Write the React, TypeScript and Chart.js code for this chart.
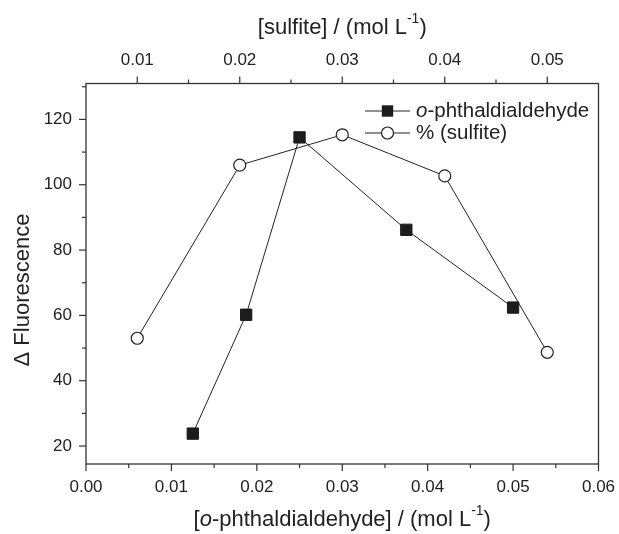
import React, { useEffect, useRef } from 'react';
import { Chart, registerables } from 'chart.js';

Chart.register(...registerables);

// ---- data ----
const opaConc = [0.0125, 0.01875, 0.025, 0.0375, 0.05];
const opaFluor = [23.8, 60.2, 114.5, 86.2, 62.4];
const sulfiteConc = [0.01, 0.02, 0.03, 0.04, 0.05];
const sulfiteFluor = [53.0, 106.0, 115.3, 102.7, 48.7];

const bottomTicks = [0, 0.01, 0.02, 0.03, 0.04, 0.05, 0.06];
const bottomMinor = [0.005, 0.015, 0.025, 0.035, 0.045, 0.055];
const topTicks = [0.01, 0.02, 0.03, 0.04, 0.05];
const topMinor = [0.015, 0.025, 0.035, 0.045];
const yTicks = [20, 40, 60, 80, 100, 120];
const yMinor = [30, 50, 70, 90, 110, 130];

const FONT = '"Liberation Sans", Arial, sans-serif';
const INK = '#222';
const TITLE_SIZE = 22;
const LEGEND_SIZE = 20.5;

type Seg = { t: string; it?: boolean; sup?: boolean };

function segFont(s: Seg, size: number) {
  const sz = s.sup ? Math.round(size * 0.62) : size;
  return `${s.it ? 'italic ' : ''}${sz}px ${FONT}`;
}

function richWidth(ctx: CanvasRenderingContext2D, segs: Seg[], size: number) {
  let w = 0;
  for (const s of segs) {
    ctx.font = segFont(s, size);
    w += ctx.measureText(s.t).width;
  }
  return w;
}

function drawRich(ctx: CanvasRenderingContext2D, segs: Seg[], x: number, y: number, size: number, align: 'center' | 'left') {
  const w = richWidth(ctx, segs, size);
  let cx = align === 'center' ? x - w / 2 : x;
  ctx.textAlign = 'left';
  ctx.textBaseline = 'middle';
  ctx.fillStyle = INK;
  for (const s of segs) {
    ctx.font = segFont(s, size);
    ctx.fillText(s.t, cx, s.sup ? y - size * 0.38 : y);
    cx += ctx.measureText(s.t).width;
  }
}

const framePlugin = {
  id: 'frameTicks',
  beforeDatasetsDraw(chart: any) {
    const { ctx, chartArea: a, scales } = chart;
    ctx.save();
    ctx.strokeStyle = '#333';
    ctx.lineWidth = 1.3;
    ctx.strokeRect(a.left, a.top, a.right - a.left, a.bottom - a.top);
    const seg = (x1: number, y1: number, x2: number, y2: number) => {
      ctx.beginPath();
      ctx.moveTo(x1, y1);
      ctx.lineTo(x2, y2);
      ctx.stroke();
    };
    ctx.lineWidth = 1.2;
    bottomTicks.forEach((v) => { const x = scales.x.getPixelForValue(v); seg(x, a.bottom, x, a.bottom + 7); });
    bottomMinor.forEach((v) => { const x = scales.x.getPixelForValue(v); seg(x, a.bottom, x, a.bottom + 4); });
    topTicks.forEach((v) => { const x = scales.x2.getPixelForValue(v); seg(x, a.top, x, a.top - 7); });
    topMinor.forEach((v) => { const x = scales.x2.getPixelForValue(v); seg(x, a.top, x, a.top - 4); });
    yTicks.forEach((v) => { const y = scales.y.getPixelForValue(v); seg(a.left, y, a.left - 7, y); });
    yMinor.forEach((v) => {
      if (v <= scales.y.max && v >= scales.y.min) {
        const y = scales.y.getPixelForValue(v); seg(a.left, y, a.left - 4, y);
      }
    });
    ctx.restore();
  },
  afterDraw(chart: any) {
    const { ctx, chartArea: a } = chart;
    ctx.save();
    const cx = (a.left + a.right) / 2;
    // axis titles
    drawRich(ctx, [{ t: '[sulfite] / (mol L' }, { t: '-1', sup: true }, { t: ')' }], cx, 28, TITLE_SIZE, 'center');
    drawRich(ctx, [{ t: '[' }, { t: 'o', it: true }, { t: '-phthaldialdehyde] / (mol L' }, { t: '-1', sup: true }, { t: ')' }], cx, 520, TITLE_SIZE, 'center');
    ctx.save();
    ctx.translate(23, 290);
    ctx.rotate(-Math.PI / 2);
    drawRich(ctx, [{ t: '\u0394 Fluorescence' }], 0, 0, TITLE_SIZE, 'center');
    ctx.restore();

    // legend
    const lx = a.left + 279;
    const rows = [a.top + 27.5, a.top + 49.5];
    ctx.strokeStyle = INK;
    ctx.lineWidth = 1;
    rows.forEach((ry, i) => {
      ctx.beginPath();
      ctx.moveTo(lx, ry);
      ctx.lineTo(lx + 45, ry);
      ctx.stroke();
      const mx = lx + 22.5;
      if (i === 0) {
        ctx.fillStyle = '#1c1c1c';
        ctx.fillRect(mx - 5.7, ry - 5.7, 11.4, 11.4);
      } else {
        ctx.beginPath();
        ctx.arc(mx, ry, 6, 0, Math.PI * 2);
        ctx.fillStyle = '#fff';
        ctx.fill();
        ctx.lineWidth = 1.2;
        ctx.stroke();
      }
    });
    drawRich(ctx, [{ t: 'o', it: true }, { t: '-phthaldialdehyde' }], lx + 51, rows[0], LEGEND_SIZE, 'left');
    drawRich(ctx, [{ t: '% (sulfite)' }], lx + 51, rows[1], LEGEND_SIZE, 'left');
    ctx.restore();
  },
};

export default function App() {
  const ref = useRef<HTMLCanvasElement | null>(null);
  useEffect(() => {
    if (!ref.current) return;
    const tickFont = { family: FONT, size: 17 };
    const noPadX = (s: any, h: number) => {
      s.height = h;
      s.paddingLeft = 0;
      s.paddingRight = 0;
    };
    const chart = new Chart(ref.current, {
      type: 'scatter',
      data: {
        datasets: [
          {
            label: 'o-phthaldialdehyde',
            xAxisID: 'x',
            yAxisID: 'y',
            data: opaConc.map((c, i) => ({ x: c, y: opaFluor[i] })),
            showLine: true,
            borderColor: INK,
            borderWidth: 1,
            pointStyle: 'rect',
            pointRadius: 8,
            pointBackgroundColor: '#1c1c1c',
            pointBorderColor: '#1c1c1c',
            pointBorderWidth: 1,
          },
          {
            label: '% (sulfite)',
            xAxisID: 'x2',
            yAxisID: 'y',
            data: sulfiteConc.map((c, i) => ({ x: c, y: sulfiteFluor[i] })),
            showLine: true,
            borderColor: INK,
            borderWidth: 1,
            pointStyle: 'circle',
            pointRadius: 6,
            pointBackgroundColor: '#fff',
            pointBorderColor: INK,
            pointBorderWidth: 1.2,
          },
        ],
      },
      options: {
        responsive: false,
        animation: false,
        layout: { padding: { left: 0, right: 20.5, top: 0, bottom: 0 } },
        plugins: { legend: { display: false }, tooltip: { enabled: false } },
        scales: {
          x: {
            type: 'linear',
            position: 'bottom',
            min: 0,
            max: 0.06,
            grid: { display: false, drawTicks: false },
            border: { display: false },
            ticks: {
              font: tickFont,
              color: INK,
              padding: 13,
              autoSkip: false,
              maxRotation: 0,
              callback: (v: any) => Number(v).toFixed(2),
            },
            afterBuildTicks: (s: any) => { s.ticks = bottomTicks.map((v) => ({ value: v })); },
            afterFit: (s: any) => noPadX(s, 70),
          },
          x2: {
            type: 'linear',
            position: 'top',
            min: 0.005,
            max: 0.055,
            grid: { display: false, drawTicks: false },
            border: { display: false },
            ticks: {
              font: tickFont,
              color: INK,
              padding: 13,
              autoSkip: false,
              maxRotation: 0,
              callback: (v: any) => Number(v).toFixed(2),
            },
            afterBuildTicks: (s: any) => { s.ticks = topTicks.map((v) => ({ value: v })); },
            afterFit: (s: any) => noPadX(s, 83.5),
          },
          y: {
            type: 'linear',
            position: 'left',
            min: 14.5,
            max: 131,
            grid: { display: false, drawTicks: false },
            border: { display: false },
            ticks: {
              font: tickFont,
              color: INK,
              padding: 14,
              autoSkip: false,
              callback: (v: any) => String(v),
            },
            afterBuildTicks: (s: any) => { s.ticks = yTicks.map((v) => ({ value: v })); },
            afterFit: (s: any) => {
              s.width = 86;
              s.paddingTop = 0;
              s.paddingBottom = 0;
            },
          },
        },
      },
      plugins: [framePlugin],
    } as any);
    return () => chart.destroy();
  }, []);
  return (
    <div style={{ position: 'fixed', left: 0, top: 0, width: 619, height: 534, background: '#fff' }}>
      <canvas ref={ref} width={619} height={534} style={{ display: 'block' }} />
    </div>
  );
}
